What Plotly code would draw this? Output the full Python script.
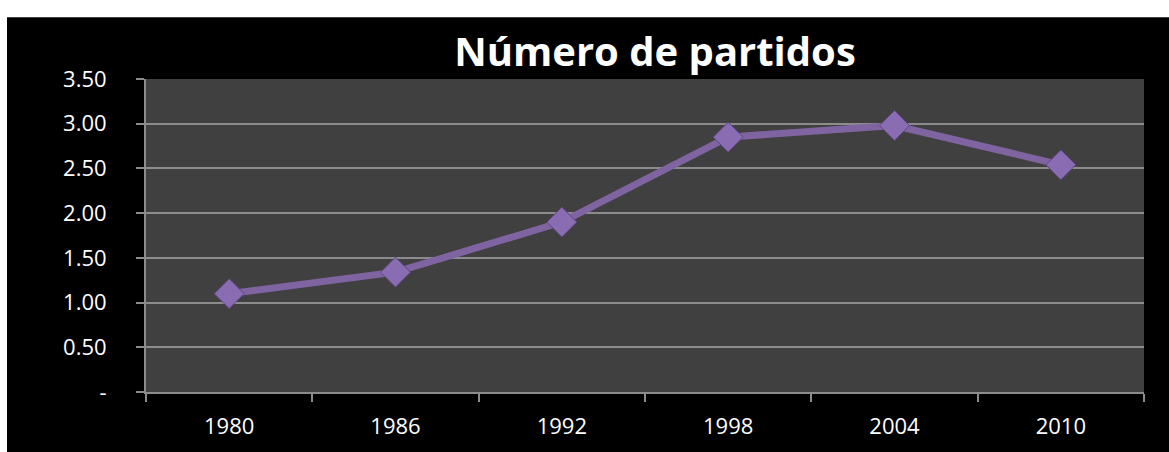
"""Número de partidos: line chart with diamond markers on a dark background."""

import plotly.graph_objects as go

# Data
YEARS = ["1980", "1986", "1992", "1998", "2004", "2010"]
NUM_PARTIDOS = [1.10, 1.34, 1.90, 2.85, 2.98, 2.54]
Y_TICKS = [0, 0.5, 1.0, 1.5, 2.0, 2.5, 3.0, 3.5]
Y_TICK_TEXT = ["-", "0.50", "1.00", "1.50", "2.00", "2.50", "3.00", "3.50"]

PURPLE = "#8064A2"
GRID = "#8c8c8c"
FONT = "Open Sans"

W, H = 1169, 452
L, R, T, B = 146, 25, 79, 48
plot_w = W - L - R
plot_h = H - T - B

fig = go.Figure()

fig.add_trace(
    go.Scatter(
        x=YEARS,
        y=NUM_PARTIDOS,
        mode="lines+markers",
        line={"color": PURPLE, "width": 7},
        marker={
            "symbol": "diamond",
            "size": 23,
            "color": "#8a6cb3",
            "line": {"color": "#5f4682", "width": 1},
        },
        showlegend=False,
    )
)

# black chart area, white strip on the top and left
fig.add_shape(
    type="rect",
    xref="paper",
    yref="paper",
    x0=-(L - 7) / plot_w,
    x1=(W - L + 20) / plot_w,
    y0=-(B + 20) / plot_h,
    y1=(H - 15 - B) / plot_h,
    fillcolor="black",
    line={"width": 0},
    layer="below",
)
fig.add_shape(
    type="rect",
    xref="paper",
    yref="paper",
    x0=0,
    x1=1,
    y0=0,
    y1=1,
    fillcolor="#404040",
    line={"width": 0},
    layer="below",
)

fig.update_layout(
    width=W,
    height=H,
    margin={"l": L, "r": R, "t": T, "b": B},
    paper_bgcolor="white",
    plot_bgcolor="rgba(0,0,0,0)",
    font={"family": FONT, "color": "white", "size": 22},
    title={
        "text": "<b>Número de partidos</b>",
        "font": {"family": FONT, "size": 40, "color": "white"},
        "x": 655 / W,
        "xanchor": "center",
        "y": 1 - 52 / H,
        "yanchor": "middle",
        "xref": "container",
        "yref": "container",
    },
)

fig.update_xaxes(
    type="category",
    range=[-0.5, len(YEARS) - 0.5],
    tickson="boundaries",
    ticks="outside",
    ticklen=8,
    tickwidth=2,
    tickcolor=GRID,
    showline=True,
    linecolor=GRID,
    linewidth=2,
    showgrid=False,
    tickfont={"family": FONT, "size": 22, "color": "white"},
    ticklabelstandoff=14,
)
fig.update_yaxes(
    range=[0, 3.5],
    tickvals=Y_TICKS,
    ticktext=Y_TICK_TEXT,
    ticks="outside",
    ticklen=8,
    tickwidth=2,
    tickcolor=GRID,
    showline=True,
    linecolor=GRID,
    linewidth=2,
    showgrid=True,
    gridcolor=GRID,
    gridwidth=2,
    zeroline=False,
    tickfont={"family": FONT, "size": 22, "color": "white"},
    ticklabelstandoff=25,
)

fig.write_html(
    "out.html",
    config={"displayModeBar": False},
    post_script=(
        "document.documentElement.style.margin='0';"
        "document.body.style.margin='0';"
        "document.body.style.overflow='hidden';"
    ),
)
